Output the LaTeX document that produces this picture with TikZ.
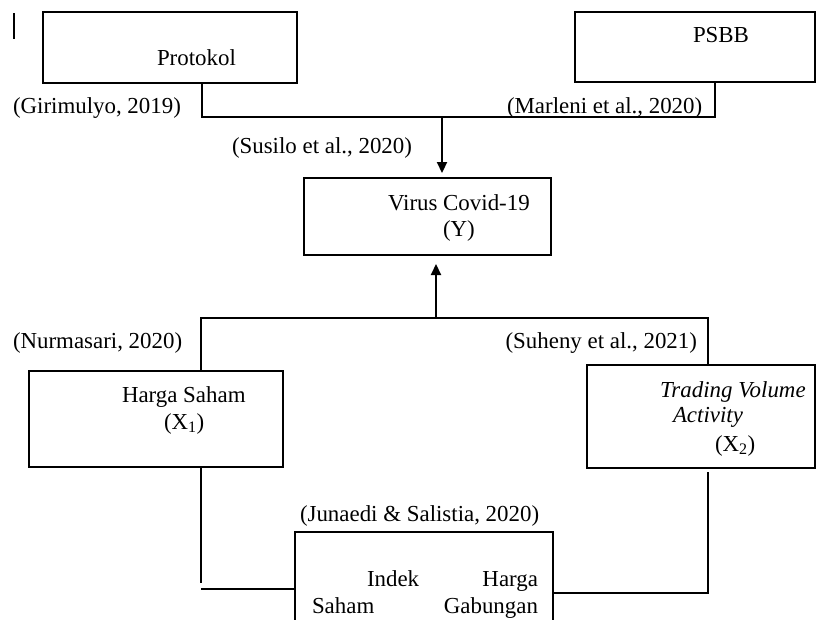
\documentclass[tikz,border=0pt]{standalone}
\usepackage{fontspec}
\setmainfont{Liberation Serif}
\usetikzlibrary{arrows.meta}
\begin{document}
\begin{tikzpicture}[x=1pt,y=-1pt,
  box/.style={draw,line width=2.2pt,rectangle,inner sep=0pt,outer sep=0pt},
  conn/.style={line width=2.2pt},
  arr/.style={line width=2.2pt,-{Triangle[width=10pt,length=11pt]}},
  lbl/.style={inner sep=0pt,outer sep=0pt,anchor=base west,font=\fontsize{22.9}{26}\selectfont},
  lble/.style={lbl,anchor=base east}]
\useasboundingbox (0,0) rectangle (817,619);
\clip (0,0) rectangle (817,619);
% boxes
\node[box,minimum width=254pt,minimum height=71pt] (prot) at (170,47.5) {};
\node[box,minimum width=240pt,minimum height=70pt] (psbb) at (695,47) {};
\node[box,minimum width=247pt,minimum height=77pt] (virus) at (427.5,216.5) {};
\node[box,minimum width=254pt,minimum height=96pt] (harga) at (156,419) {};
\node[box,minimum width=228pt,minimum height=103pt] (tva) at (701,416.5) {};
\node[box,minimum width=258pt,minimum height=118pt] (ihsg) at (424,591) {};
% small tick
\coordinate (tick1) at (14,13);
\coordinate (tick2) at (14,39);
\draw[line width=1.5pt] (tick1) -- (tick2);
% texts
\node[lbl] (tprot) at (157,65) {Protokol};
\node[lbl] (tpsbb) at (693,42) {PSBB};
\node[lbl] (lgiri) at (13,113) {(Girimulyo, 2019)};
\node[lbl] (lmarl) at (507,113) {(Marleni et al., 2020)};
\node[lbl] (lsusi) at (232,153) {(Susilo et al., 2020)};
\node[lbl] (tvir1) at (388,210) {Virus Covid-19};
\node[lbl] (tvir2) at (443,236) {(Y)};
\node[lbl] (lnurm) at (13,348) {(Nurmasari, 2020)};
\node[lble] (lsuhe) at (697,348) {(Suheny et al., 2021)};
\node[lbl] (thar1) at (122,402) {Harga Saham};
\node[lbl] (thar2) at (164,429) {(X\textsubscript{1})};
\node[lbl] (ttva1) at (660,397) {\itshape Trading Volume};
\node[lbl] (ttva2) at (673,422) {\itshape Activity};
\node[lbl] (ttva3) at (715,451) {(X\textsubscript{2})};
\node[lbl] (ljuna) at (300,521) {(Junaedi \& Salistia, 2020)};
\node[lbl] (tih1) at (367,586) {Indek};
\node[lble] (tih2) at (538,586) {Harga};
\node[lbl] (tih3) at (312,613) {Saham};
\node[lble] (tih4) at (538,613) {Gabungan};
% connectors
\coordinate (tl) at (202,117);
\coordinate (tr) at (715,117);
\coordinate (ta) at (442,117);
\draw[conn] (prot.south -| tl) -- (tl) -- (tr) -- (psbb.south -| tr);
\draw[arr,shorten >=5pt] (ta) -- (virus.north -| ta);
\coordinate (ml) at (201,318);
\coordinate (mr) at (708,318);
\coordinate (ma) at (436,318);
\draw[conn] (harga.north -| ml) -- (ml) -- (mr) -- (tva.north -| mr);
\draw[arr,shorten >=9pt] (ma) -- (virus.south -| ma);
\coordinate (bl1) at (201,583);
\coordinate (bl2) at (201,589);
\coordinate (br) at (708,593);
\draw[conn] (harga.south -| bl1) -- (bl1);
\draw[conn] (bl2) -- (ihsg.west |- bl2);
\draw[conn,shorten <=4pt] (tva.south -| br) -- (br) -- (ihsg.east |- br);
\end{tikzpicture}
\end{document}
